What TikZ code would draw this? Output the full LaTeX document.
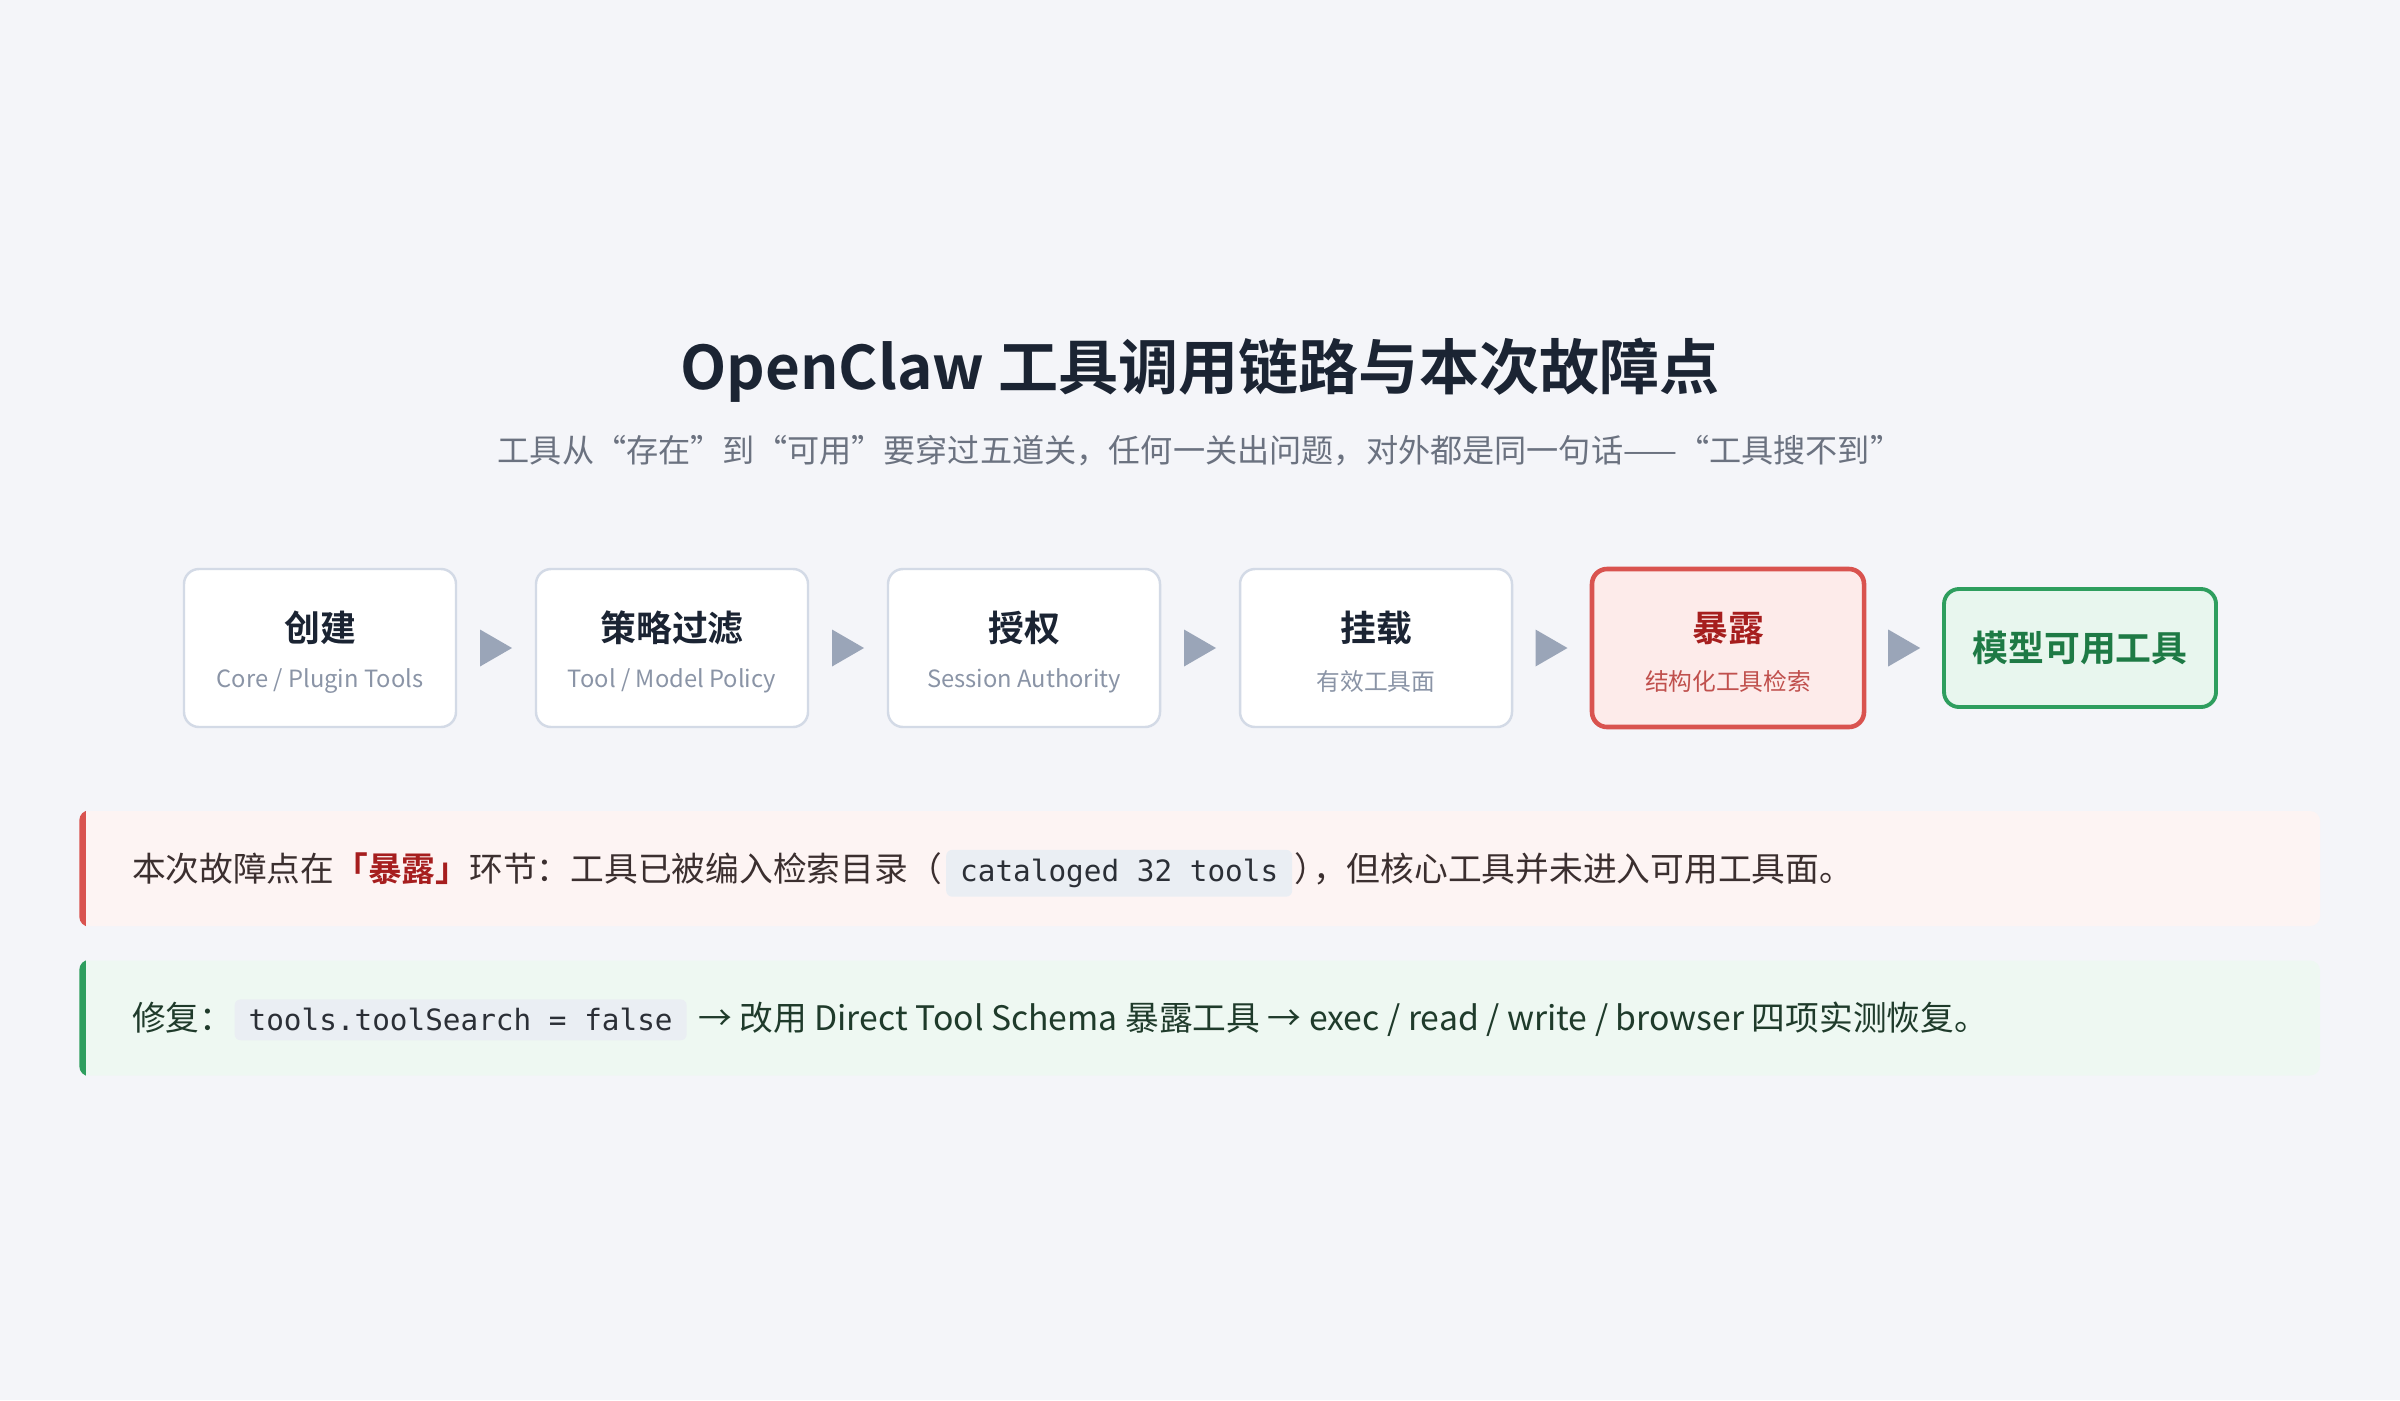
\documentclass[tikz,border=0pt]{standalone}
\usepackage{fontspec}
\setmainfont{Noto Sans CJK SC}[BoldFont={Noto Sans CJK SC Bold}]
\setmonofont{DejaVu Sans Mono}
\usepackage{xcolor}
\usetikzlibrary{positioning, calc}

\definecolor{pagebg}{HTML}{F4F5F9}
\definecolor{ink}{HTML}{1B2433}
\definecolor{subink}{HTML}{6B7280}
\definecolor{boxline}{HTML}{D3DAE6}
\definecolor{boxsub}{HTML}{8A94A6}
\definecolor{tri}{HTML}{9AA5B8}
\definecolor{redline}{HTML}{D9534F}
\definecolor{redfill}{HTML}{FDEBEA}
\definecolor{redink}{HTML}{A61E1E}
\definecolor{redsub}{HTML}{C0504D}
\definecolor{greenline}{HTML}{2E9E5E}
\definecolor{greenfill}{HTML}{E8F6EE}
\definecolor{greenink}{HTML}{1E7A45}
\definecolor{failbg}{HTML}{FDF4F3}
\definecolor{failink}{HTML}{3B2F2F}
\definecolor{fixbg}{HTML}{EEF8F2}
\definecolor{fixink}{HTML}{1F3B2B}
\definecolor{chipbg}{HTML}{EAEEF3}
\definecolor{chipink}{HTML}{2B2F36}

\tikzset{
  stage/.style={draw=boxline, fill=white, line width=0.7pt, rounded corners=0.15cm,
    minimum width=2.72cm, minimum height=1.58cm},
  stagetitle/.style={font=\fontsize{10.2}{12}\selectfont\bfseries, text=ink, inner sep=0},
  stagesub/.style={font=\fontsize{6.75}{8.5}\selectfont, text=boxsub, inner sep=0},
  panel/.style={rounded corners=0.1cm, minimum width=22.4cm, minimum height=1.15cm, inner sep=0},
  paneltext/.style={font=\fontsize{9.6}{11.5}\selectfont, inner sep=0},
  chip/.style={fill=chipbg, rounded corners=0.06cm, text=chipink, inner xsep=0.14cm,
    inner ysep=0.09cm, font=\fontsize{8.35}{10}\selectfont\ttfamily}
}

\begin{document}
\begin{tikzpicture}
  % fundo
  \fill[pagebg] (0,0) rectangle (24,-14);
  \useasboundingbox (0,0) rectangle (24,-14);

  % titulo
  \node[font=\fontsize{17.1}{21}\selectfont\bfseries, text=ink] (title) at (12,-3.70)
    {OpenClaw 工具调用链路与本次故障点};
  \node[font=\fontsize{9.15}{11}\selectfont, text=subink] (subtitle) at (12,-4.51)
    {工具从“存在”到“可用”要穿过五道关，任何一关出问题，对外都是同一句话——“工具搜不到”};

  % etapas
  \foreach \n/\x/\t/\s in {create/3.20/创建/{Core / Plugin Tools},
                           filter/6.72/策略过滤/{Tool / Model Policy},
                           auth/10.24/授权/{Session Authority},
                           mount/13.76/挂载/有效工具面}{
    \node[stage] (\n) at (\x,-6.48) {};
    \node[stagetitle] at ($(\n.center)+(0,0.20)$) {\t};
    \node[stagesub] at ($(\n.center)+(0,-0.33)$) {\s};
  }

  % etapa com falha
  \node[stage, draw=redline, fill=redfill, line width=1.3pt] (expose) at (17.28,-6.48) {};
  \node[stagetitle, text=redink] at ($(expose.center)+(0,0.20)$) {暴露};
  \node[stagesub, text=redsub] at ($(expose.center)+(0,-0.33)$) {结构化工具检索};

  % resultado
  \node[stage, draw=greenline, fill=greenfill, line width=1.1pt, minimum height=1.18cm,
    font=\fontsize{10.2}{12}\selectfont\bfseries, text=greenink] (usable) at (20.80,-6.48) {模型可用工具};

  % setas
  \foreach \a/\b in {create/filter, filter/auth, auth/mount, mount/expose, expose/usable}
    \fill[tri] ($(\a.east)!0.5!(\b.west)+(-0.16,0.185)$) -- ++(0.32,-0.185) -- ++(-0.32,-0.185) -- cycle;

  % painel falha
  \node[panel, fill=failbg] (fail) at (12,-8.685) {};
  \begin{scope}
    \clip[rounded corners=0.1cm] (fail.south west) rectangle (fail.north east);
    \fill[redline] (fail.south west) rectangle ($(fail.north west)+(0.07,0)$);
  \end{scope}
  \node[paneltext, text=failink, anchor=west] (fail1) at ($(fail.west)+(0.52,0)$)
    {本次故障点在{\bfseries\color{redink}「暴露」}环节：工具已被编入检索目录（};
  \node[chip, anchor=base west] (failchip) at ($(fail1.base east)+(0.03,0)$) {cataloged 32 tools};
  \node[paneltext, text=failink, anchor=base west] (fail2) at ($(failchip.base east)+(0.01,0)$)
    {）\kern-0.45em，但核心工具并未进入可用工具面。};

  % painel correcao
  \node[panel, fill=fixbg] (fix) at (12,-10.18) {};
  \begin{scope}
    \clip[rounded corners=0.1cm] (fix.south west) rectangle (fix.north east);
    \fill[greenline] (fix.south west) rectangle ($(fix.north west)+(0.07,0)$);
  \end{scope}
  \node[paneltext, text=fixink, anchor=west] (fix1) at ($(fix.west)+(0.52,0)$) {修复：};
  \node[chip, anchor=base west] (fixchip) at ($(fix1.base east)+(0.0,0)$) {tools.toolSearch = false};
  \node[paneltext, text=fixink, anchor=base west] (fix2) at ($(fixchip.base east)+(0.1,0)$)
    {→ 改用 Direct Tool Schema 暴露工具 → exec / read / write / browser 四项实测恢复。};
\end{tikzpicture}
\end{document}
